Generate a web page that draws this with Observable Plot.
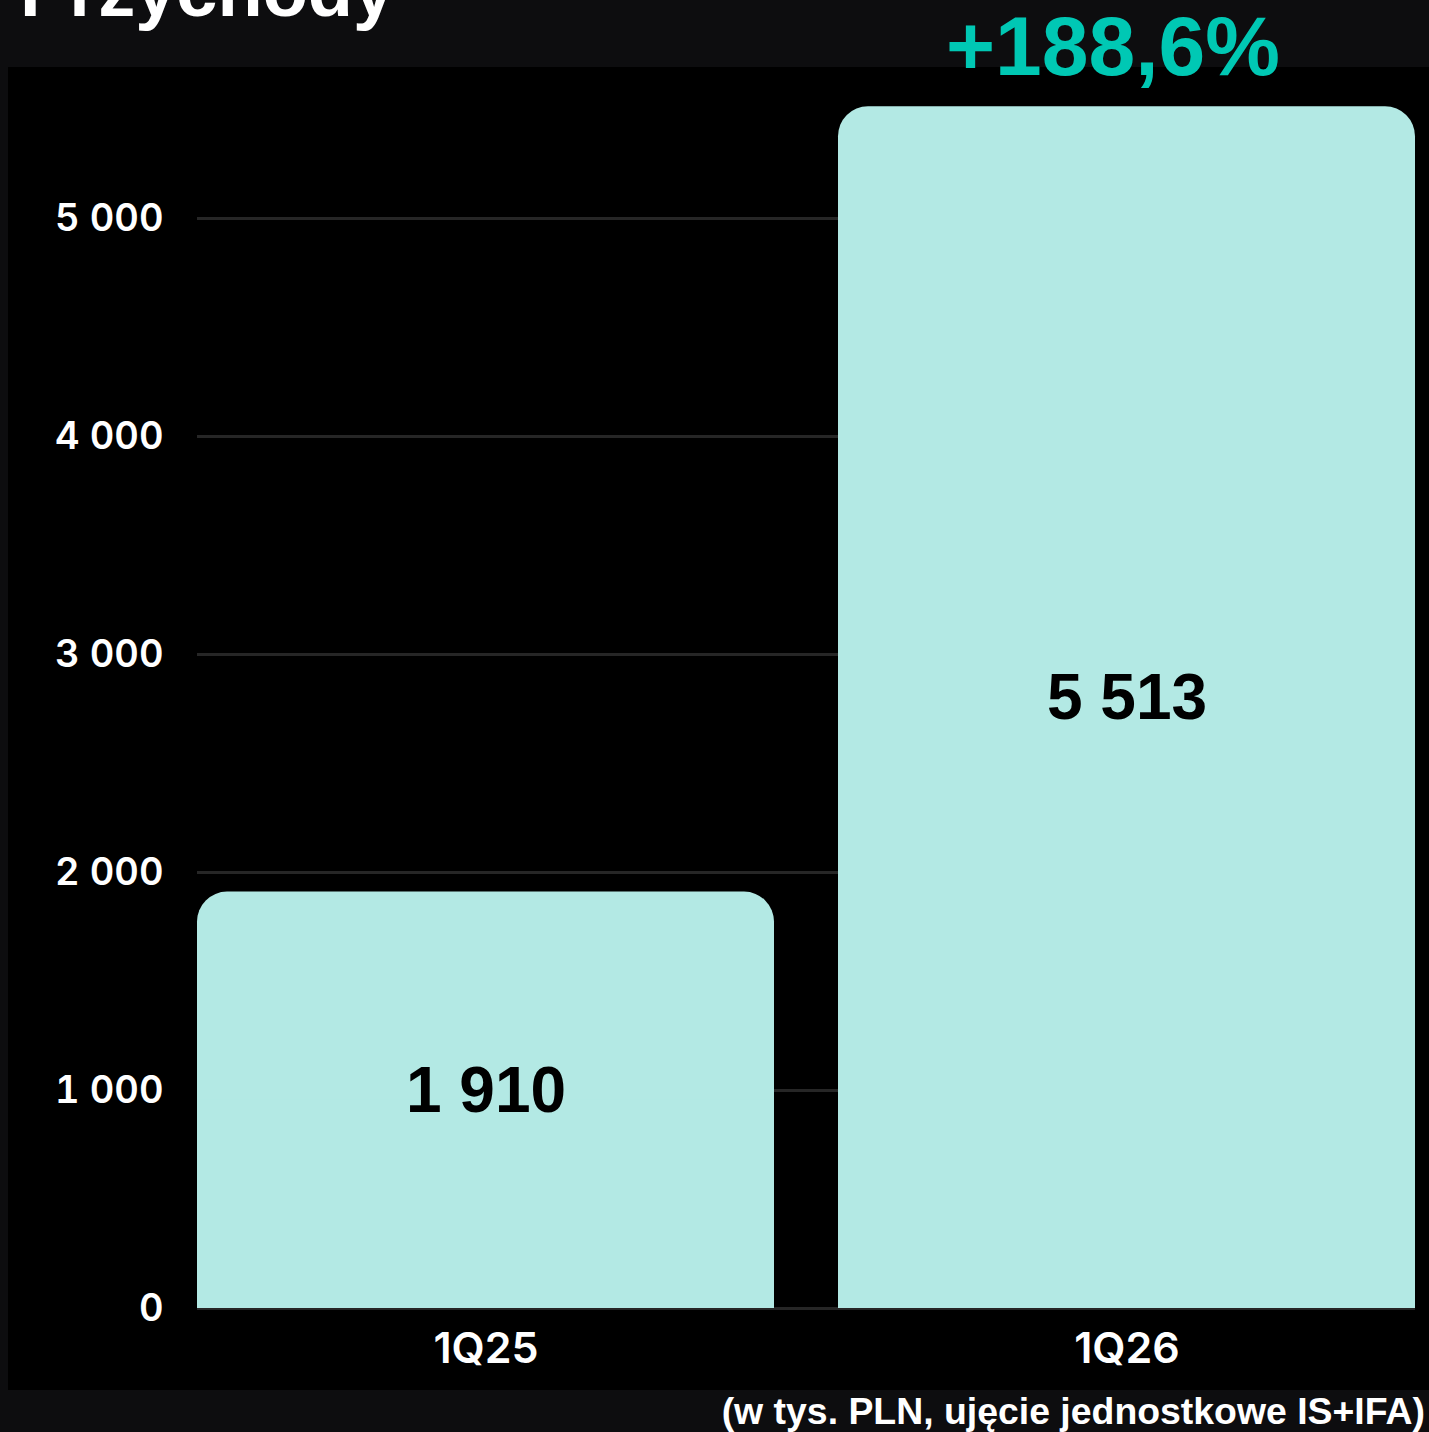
<!DOCTYPE html>
<html>
<head>
<meta charset="utf-8">
<script src="https://cdn.jsdelivr.net/npm/d3@7"></script>
<script src="https://cdn.jsdelivr.net/npm/@observablehq/plot@0.6"></script>
<style>
  html, body { margin: 0; padding: 0; background: #0d0d0f; }
  #wrap { position: relative; width: 1429px; height: 1432px; overflow: hidden; background: #0d0d0f; }
  #title { position: absolute; left: 20px; top: -52px; font: bold 74px "Liberation Sans", Arial, sans-serif; color: #fff; white-space: nowrap; }
  #growth { position: absolute; left: 0; width: 2226px; text-align: center; top: -3px; font: bold 84px "Liberation Sans", Arial, sans-serif; color: #00c8b4; white-space: nowrap; line-height: 98px; z-index: 2; }
  #chart { position: absolute; left: 8px; top: 67px; }
  #caption { position: absolute; right: 4px; top: 1388px; font: bold 37.4px "Liberation Sans Narrow", "Liberation Sans", sans-serif; color: #fff; white-space: nowrap; line-height: 46px; }
</style>
</head>
<body>
<div id="wrap">
  <div id="title">Przychody</div>
  <div id="chart"></div>
  <div id="growth"></div>
  <div id="caption">(w tys. PLN, ujęcie jednostkowe IS+IFA)</div>
</div>
<script>
const quarters = ["1Q25", "1Q26"];
const revenue = [1910, 5513];
const valueLabels = ["1 910", "5 513"];
const yTicks = [0, 1000, 2000, 3000, 4000, 5000];
const yTickLabels = ["0", "1 000", "2 000", "3 000", "4 000", "5 000"];
const growthLabel = "+188,6%";

document.getElementById("growth").textContent = growthLabel;

const data = quarters.map((q, i) => ({q, v: revenue[i], label: valueLabels[i]}));

const chart = Plot.plot({
  width: 1421,
  height: 1323,
  marginLeft: 189,
  marginRight: 14,
  marginTop: 151,
  marginBottom: 82,
  style: {background: "#000", color: "#fff", fontFamily: "Inter, 'Liberation Sans', sans-serif", fontSize: "38px", fontWeight: 600, overflow: "visible"},
  x: {domain: quarters, paddingInner: 0.1, paddingOuter: 0},
  y: {domain: [0, 5000]},
  marks: [
    Plot.gridY(yTicks, {stroke: "#262626", strokeWidth: 3, strokeOpacity: 1}),
    Plot.axisY(yTicks, {tickFormat: d => yTickLabels[yTicks.indexOf(d)], label: null, tickSize: 0, tickPadding: 34, fontSize: 38}),
    Plot.axisX({label: null, tickSize: 0, tickPadding: 24, fontSize: 43}),
    Plot.barY(data, {x: "q", y: "v", fill: "#b3e9e4", rx: 30}),
    Plot.barY(data, {x: "q", y1: 0, y2: d => d.v / 2, fill: "#b3e9e4"}),
    Plot.text(data, {x: "q", y: d => d.v / 2, text: "label", fill: "#000", fontSize: 64, fontWeight: "bold", fontFamily: "'Liberation Sans', Arial, sans-serif", dy: -9})
  ]
});
document.getElementById("chart").appendChild(chart);
</script>
</body>
</html>
